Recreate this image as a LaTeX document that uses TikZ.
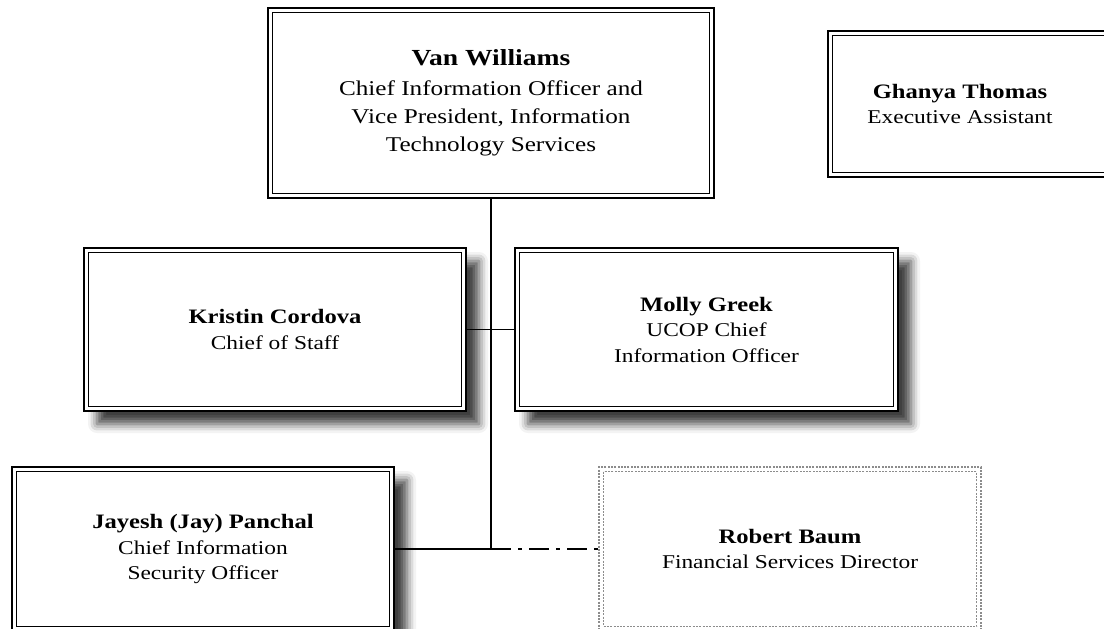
\documentclass[tikz,border=0pt]{standalone}
\usepackage{fontspec}
\setmainfont[FakeStretch=1.2]{Liberation Serif}
\usetikzlibrary{shadows.blur,calc}
\begin{document}
\begin{tikzpicture}[x=1pt,y=-1pt,
  box/.style={draw, line width=2pt, outer sep=0pt, inner sep=0pt, fill=white},
  shbox/.style={box, blur shadow={shadow xshift=13pt, shadow yshift=-13pt, shadow blur radius=9pt, shadow opacity=75}},
  dotbox/.style={draw=dotgray, line width=1.3pt, dash pattern=on 2pt off 1.3pt, outer sep=0pt, inner sep=0pt},
  txt/.style={align=center, inner sep=0pt, font=\fontsize{19.5}{25.5}\selectfont},
  bigtxt/.style={align=center, inner sep=0pt, font=\fontsize{21}{28}\selectfont},
  conn/.style={line width=1.6pt},
  dashdotline/.style={line width=1.4pt, dash pattern=on 20pt off 7pt on 4pt off 7pt}
]
\definecolor{dotgray}{HTML}{8C8C8C}
\useasboundingbox (0,0) rectangle (1104,629);
\clip (0,0) rectangle (1104,629);

% boxes
\node[box, minimum width=446pt, minimum height=190pt] (van) at (491,103) {};
\node[box, minimum width=296pt, minimum height=146pt] (gha) at (976,104) {};
\node[shbox, minimum width=382pt, minimum height=163pt] (kri) at (275,329.5) {};
\node[shbox, minimum width=383pt, minimum height=163pt] (mol) at (706.5,329.5) {};
\node[shbox, minimum width=382pt, minimum height=164pt] (jay) at (203,549) {};
\node[dotbox, minimum width=382pt, minimum height=164pt] (rob) at (790,549) {};

% inner lines
\foreach \n in {van,gha,kri,mol,jay}
  \draw[line width=1.2pt] ([shift={(4.5pt,-4.5pt)}]\n.north west) rectangle ([shift={(-4.5pt,4.5pt)}]\n.south east);
\draw[draw=dotgray, line width=1.3pt, dash pattern=on 2pt off 1.3pt] ([shift={(4.5pt,-4.5pt)}]rob.north west) rectangle ([shift={(-4.5pt,4.5pt)}]rob.south east);

% connectors
\coordinate (junc) at (van.south |- jay.east);
\draw[conn, line width=2pt] (van.south) -- (junc);
\draw[conn] (kri.east) -- (mol.west);
\draw[conn] (jay.east) -- (junc);
\draw[dashdotline] (junc) -- (rob.west);

% texts
\node[bigtxt] (vant) at (van.center) {{\fontsize{23}{28}\selectfont\bfseries Van Williams}\\[2pt]Chief Information Officer and\\Vice President, Information\\Technology Services};
\node[txt] (ghat) at ([xshift=-16pt]gha.center) {{\fontsize{20.5}{25.5}\selectfont\bfseries Ghanya Thomas}\\Executive Assistant};
\node[txt] (krit) at (kri.center) {{\fontsize{20.5}{25.5}\selectfont\bfseries Kristin Cordova}\\Chief of Staff};
\node[txt] (molt) at (mol.center) {{\fontsize{20.5}{25.5}\selectfont\bfseries Molly Greek}\\UCOP Chief\\Information Officer};
\node[txt] (jayt) at (jay.center) {{\fontsize{20.5}{25.5}\selectfont\bfseries Jayesh (Jay) Panchal}\\Chief Information\\Security Officer};
\node[txt] (robt) at (rob.center) {{\fontsize{20.5}{25.5}\selectfont\bfseries Robert Baum}\\Financial Services Director};
\end{tikzpicture}
\end{document}
